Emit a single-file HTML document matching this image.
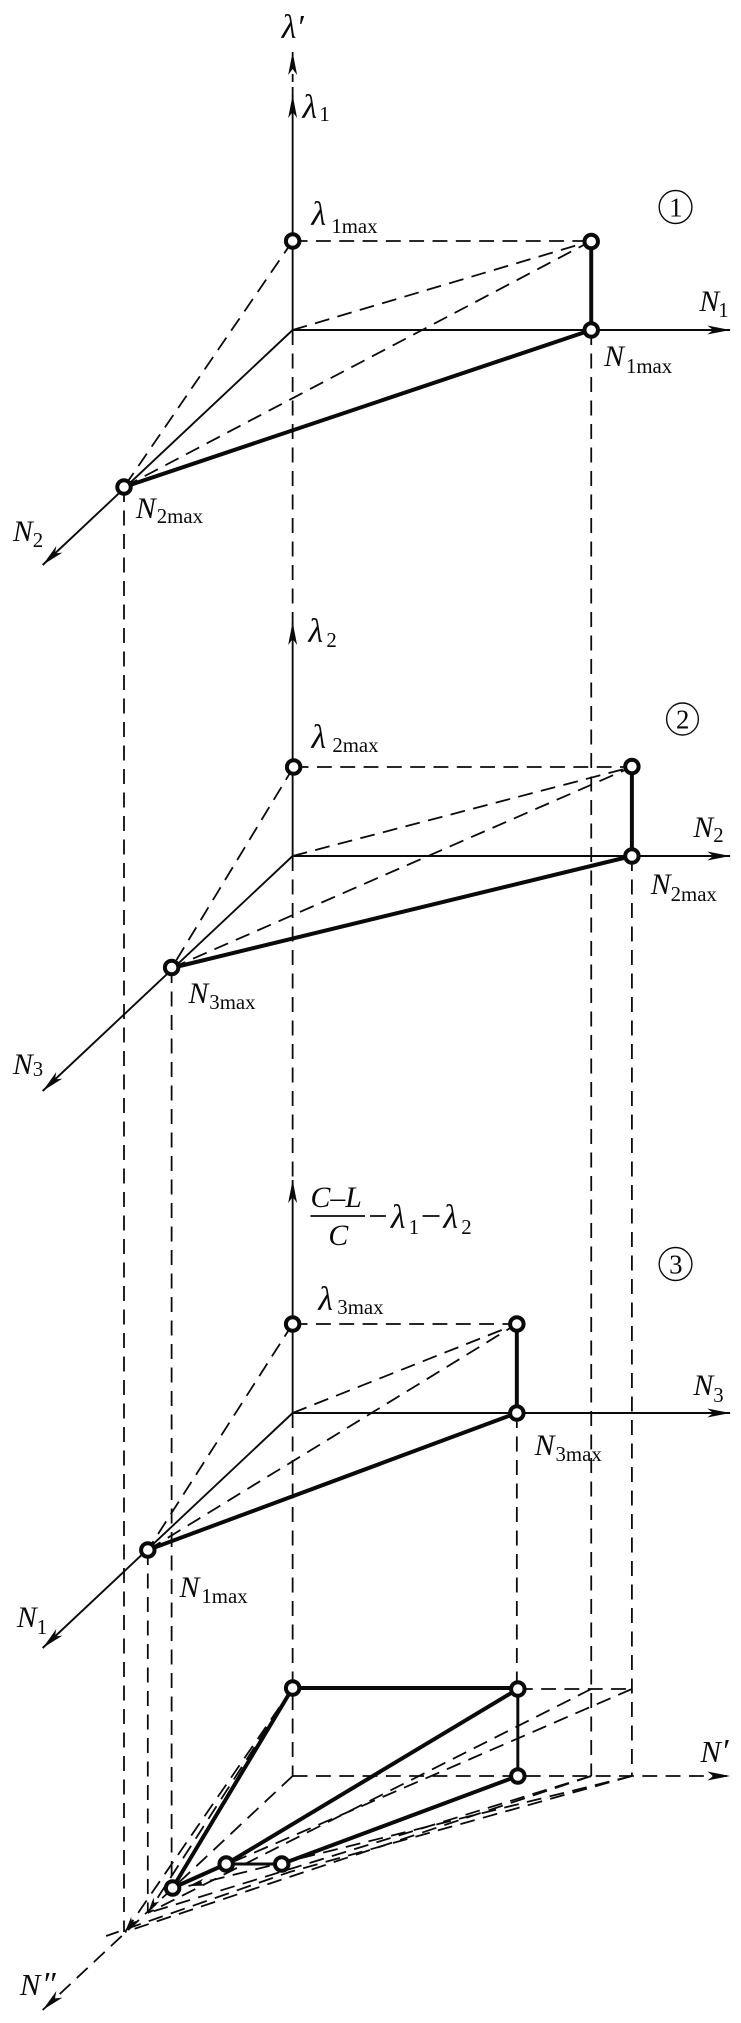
<!DOCTYPE html>
<html>
<head>
<meta charset="utf-8">
<style>
html,body{margin:0;padding:0;background:#fff;}
svg{display:block;}
text{font-family:"Liberation Serif",serif;fill:#0a0a0a;}
.i{font-style:italic;font-size:30px;}
.l{font-style:italic;font-size:34px;}
.s{font-size:21px;}
.d{font-size:27px;}
.dash{fill:none;stroke:#0a0a0a;stroke-width:1.8;stroke-dasharray:15 8.500;}
.thin{fill:none;stroke:#0a0a0a;stroke-width:1.9;}
.thick{fill:none;stroke:#0a0a0a;stroke-width:4;}
.node{fill:#fff;stroke:#0a0a0a;stroke-width:4;}
.ring{fill:none;stroke:#0a0a0a;stroke-width:1.4;}
</style>
</head>
<body>
<svg width="741" height="2023" viewBox="0 0 741 2023" xmlns="http://www.w3.org/2000/svg">
<defs>
<marker id="a" markerUnits="userSpaceOnUse" markerWidth="26" markerHeight="14" refX="24" refY="7" orient="auto">
<path d="M24,7 L1,2.500 L7,7 L1,11.500 Z" fill="#0a0a0a"/>
</marker>
<marker id="b" markerUnits="userSpaceOnUse" markerWidth="18" markerHeight="12" refX="16" refY="6" orient="auto">
<path d="M16,6 L0,2.500 L4,6 L0,9.500 Z" fill="#0a0a0a"/>
</marker>
</defs>
<g transform="scale(.992,1)">

<!-- long vertical projection lines -->
<path class="dash" d="M125,487V1932"/>
<path class="dash" d="M173,968V1888"/>
<path class="dash" d="M149,1550V1913"/>
<path class="dash" d="M295,330V622"/>
<path class="dash" d="M295,856V1180"/>
<path class="dash" d="M295,1413V1776"/>
<path class="dash" d="M596,330V1776"/>
<path class="dash" d="M637,856V1776"/>
<path class="dash" d="M521,1413V1689"/>

<!-- section 1 -->
<path class="dash" d="M295,95V52" marker-end="url(#a)" style="stroke-dasharray:8 5"/>
<path class="thin" d="M295,330V95" marker-end="url(#a)"/>
<path class="thin" d="M295,330H736" marker-end="url(#a)"/>
<path class="thin" d="M295,330L43,565" marker-end="url(#a)"/>
<path class="dash" d="M295,241H596"/>
<path class="dash" d="M295,241L125,487"/>
<path class="dash" d="M295,330L596,241"/>
<path class="dash" d="M125,487L596,241"/>
<path class="thick" d="M125,487L596,330"/>
<path class="thick" d="M596,241V330"/>
<circle class="node" cx="295" cy="241" r="6.8"/>
<circle class="node" cx="596" cy="241.500" r="6.8"/>
<circle class="node" cx="596" cy="330" r="6.8"/>
<circle class="node" cx="125" cy="487" r="6.8"/>

<!-- section 2 -->
<path class="thin" d="M295,856V622" marker-end="url(#a)"/>
<path class="thin" d="M295,856H736" marker-end="url(#a)"/>
<path class="thin" d="M295,856L43,1091" marker-end="url(#a)"/>
<path class="dash" d="M296,767H637"/>
<path class="dash" d="M296,767L173,968"/>
<path class="dash" d="M295,856L637,767"/>
<path class="dash" d="M173,968L637,767"/>
<path class="thick" d="M173,968L637,856"/>
<path class="thick" d="M637,767V856"/>
<circle class="node" cx="296" cy="767" r="6.8"/>
<circle class="node" cx="637" cy="766.500" r="6.8"/>
<circle class="node" cx="637" cy="856" r="6.8"/>
<circle class="node" cx="173" cy="967.500" r="6.8"/>

<!-- section 3 -->
<path class="thin" d="M295,1413V1180" marker-end="url(#a)"/>
<path class="thin" d="M295,1413H736" marker-end="url(#a)"/>
<path class="thin" d="M295,1413L43,1648" marker-end="url(#a)"/>
<path class="dash" d="M295,1324H521"/>
<path class="dash" d="M295,1324L149,1550"/>
<path class="dash" d="M295,1413L521,1324"/>
<path class="dash" d="M149,1550L521,1324"/>
<path class="thick" d="M149,1550L521,1413"/>
<path class="thick" d="M521,1324V1413"/>
<circle class="node" cx="295" cy="1324" r="6.8"/>
<circle class="node" cx="521" cy="1324" r="6.8"/>
<circle class="node" cx="521" cy="1413" r="6.8"/>
<circle class="node" cx="149" cy="1550" r="6.8"/>

<!-- section 4 -->
<path class="dash" d="M295,1776H736" marker-end="url(#a)"/>
<path class="dash" d="M295,1776L43,2010" marker-end="url(#a)"/>
<path class="dash" d="M522,1689H637"/>
<path class="dash" d="M596,1689L149,1913"/>
<path class="dash" d="M637,1689L174,1888"/>
<path class="dash" d="M295,1688L149,1913" marker-end="url(#b)"/>
<path class="dash" d="M295,1688L126,1932" marker-end="url(#b)"/>
<path class="dash" d="M637,1776L292,1872L107,1936"/>
<path class="dash" d="M596,1776L126,1932"/>
<path class="dash" d="M596,1776L149,1913"/>
<path class="dash" d="M637,1776L190,1886" marker-end="url(#b)"/>
<path class="thick" d="M295,1688H522"/>
<path class="thick" d="M522,1689V1776" style="stroke-width:3"/>
<path class="thick" d="M295,1688L174,1888"/>
<path class="thick" d="M522,1689L228,1864"/>
<path class="thick" d="M522,1776L284,1864"/>
<path class="thick" d="M228,1864H284" style="stroke-width:3"/>
<path class="thick" d="M228,1864L174,1888"/>
<circle class="node" cx="295" cy="1688" r="6.8"/>
<circle class="node" cx="522" cy="1689" r="6.8"/>
<circle class="node" cx="522" cy="1776" r="6.8"/>
<circle class="node" cx="228" cy="1864" r="6.8"/>
<circle class="node" cx="284" cy="1864" r="6.8"/>
<circle class="node" cx="174" cy="1888" r="6.8"/>

<!-- circled numbers -->
<circle class="ring" cx="681" cy="207" r="16.500"/>
<text x="674.500" y="216.500" class="d">1</text>
<circle class="ring" cx="688" cy="719" r="16"/>
<text x="681.500" y="728.500" class="d">2</text>
<circle class="ring" cx="681" cy="1264" r="16.500"/>
<text x="674.500" y="1273.500" class="d">3</text>

<!-- labels section 1 -->
<text x="284" y="38" class="l">λ′</text>
<text x="305" y="118" class="l">λ</text><text x="322" y="121" class="s">1</text>
<text x="314" y="225" class="l">λ</text><text x="334" y="233" class="s">1max</text>
<text x="705" y="311" class="i">N</text><text x="724" y="317" class="s">1</text>
<text x="609" y="366" class="i">N</text><text x="631" y="373" class="s">1max</text>
<text x="137" y="518" class="i">N</text><text x="158" y="523" class="s">2max</text>
<text x="13" y="541" class="i">N</text><text x="33" y="547" class="s">2</text>

<!-- labels section 2 -->
<text x="311" y="642" class="l">λ</text><text x="329" y="647" class="s">2</text>
<text x="314" y="748" class="l">λ</text><text x="335" y="752" class="s">2max</text>
<text x="699" y="837" class="i">N</text><text x="719" y="842" class="s">2</text>
<text x="656" y="894" class="i">N</text><text x="676" y="901" class="s">2max</text>
<text x="190" y="1003" class="i">N</text><text x="211" y="1009" class="s">3max</text>
<text x="13" y="1074" class="i">N</text><text x="33" y="1076" class="s">3</text>

<!-- labels section 3 -->
<text x="313" y="1207" class="i" style="font-size:30px">C–L</text>
<path d="M313,1216H368" stroke="#0a0a0a" stroke-width="1.8"/>
<text x="331" y="1245" class="i" style="font-size:30px">C</text>
<path d="M373,1216H389M426,1216H443" stroke="#0a0a0a" stroke-width="1.8"/>
<text x="394" y="1228" class="l">λ</text><text x="412" y="1234" class="s">1</text>
<text x="447" y="1228" class="l">λ</text><text x="465" y="1234" class="s">2</text>
<text x="321" y="1310" class="l">λ</text><text x="340" y="1314" class="s">3max</text>
<text x="699" y="1395" class="i">N</text><text x="719" y="1402" class="s">3</text>
<text x="539" y="1455" class="i">N</text><text x="560" y="1461" class="s">3max</text>
<text x="181" y="1597" class="i">N</text><text x="203" y="1603" class="s">1max</text>
<text x="17" y="1627" class="i">N</text><text x="37" y="1634" class="s">1</text>

<!-- labels section 4 -->
<text x="706" y="1762" class="i" style="font-size:31px">N</text><text x="727" y="1762" class="i" style="font-size:34px">′</text>
<text x="20" y="1995" class="i" style="font-size:31px">N</text><text x="42" y="1995" class="i" style="font-size:34px">″</text>
</g>
</svg>
</body>
</html>
